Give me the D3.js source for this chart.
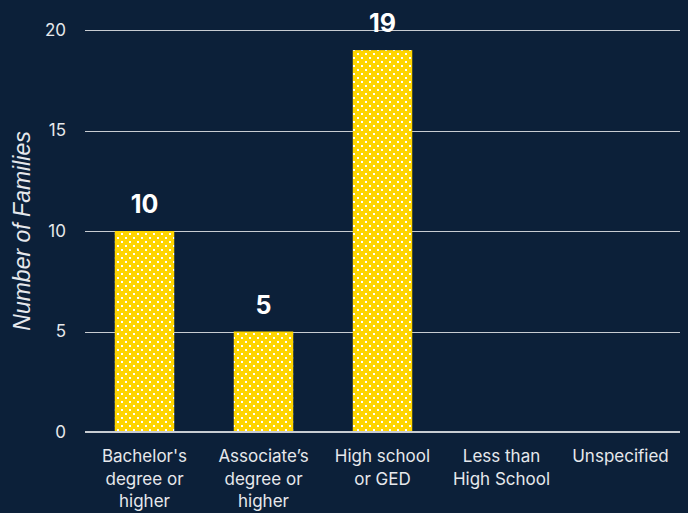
<!DOCTYPE html>
<html>
<head>
<meta charset="utf-8">
<script src="https://cdn.jsdelivr.net/npm/d3@7"></script>
<style>
  body { margin: 0; background: #0c2039; }
  svg { display: block; }
</style>
</head>
<body>
<svg id="chart" width="688" height="513"></svg>
<script>
var categories = [
  ["Bachelor's", "degree or", "higher"],
  ["Associate\u2019s", "degree or", "higher"],
  ["High school", "or GED"],
  ["Less than", "High School"],
  ["Unspecified"]
];
var values = [10, 5, 19, 0, 0];
var yTicks = [0, 5, 10, 15, 20];

(function() {
var svg = d3.select("#chart");
var W = 688, H = 513;
var plotLeft = 85, plotRight = 680, plotTop = 30, plotBottom = 432;

svg.append("rect").attr("width", W).attr("height", H).attr("fill", "#0c2039");

var defs = svg.append("defs");
var pat = defs.append("pattern")
  .attr("id", "dots")
  .attr("patternUnits", "userSpaceOnUse")
  .attr("width", 8).attr("height", 8);
pat.append("rect").attr("width", 8).attr("height", 8).attr("fill", "#ffd500");
pat.append("rect").attr("x", 1).attr("y", 1).attr("width", 2).attr("height", 2).attr("fill", "#fff");
pat.append("rect").attr("x", 5).attr("y", 5).attr("width", 2).attr("height", 2).attr("fill", "#fff");

var x = d3.scaleBand()
  .domain(d3.range(categories.length))
  .range([plotLeft, plotRight])
  .paddingInner(0.5)
  .paddingOuter(0.25);

var y = d3.scaleLinear().domain([0, 20]).range([plotBottom, plotTop]);

// gridlines
svg.append("g").selectAll("line")
  .data(yTicks.filter(function(d) { return d > 0; }))
  .enter().append("line")
  .attr("x1", plotLeft).attr("x2", plotRight)
  .attr("y1", function(d) { return Math.round(y(d)) + 0.5; })
  .attr("y2", function(d) { return Math.round(y(d)) + 0.5; })
  .attr("stroke", "#c8ccd2").attr("stroke-width", 1);

// y tick labels
svg.append("g").selectAll("text")
  .data(yTicks)
  .enter().append("text")
  .attr("x", 66)
  .attr("y", function(d) { return y(d); })
  .attr("dy", "0.35em")
  .attr("text-anchor", "end")
  .attr("fill", "#e6e8ec")
  .style("font-family", "Inter, sans-serif")
  .style("font-size", "17px")
  .text(function(d) { return d; });

// bars
svg.append("g").selectAll("rect")
  .data(values)
  .enter().append("rect")
  .attr("x", function(d, i) { return x(i); })
  .attr("y", function(d) { return y(d); })
  .attr("width", x.bandwidth())
  .attr("height", function(d) { return y(0) - y(d); })
  .attr("fill", "url(#dots)");

// baseline
svg.append("line")
  .attr("x1", plotLeft).attr("x2", plotRight)
  .attr("y1", y(0)).attr("y2", y(0))
  .attr("stroke", "#c8ccd2").attr("stroke-width", 2);

// value labels
svg.append("g").selectAll("text")
  .data(values.map(function(v, i) { return {v: v, i: i}; }).filter(function(d) { return d.v > 0; }))
  .enter().append("text")
  .attr("x", function(d) { return x(d.i) + x.bandwidth() / 2; })
  .attr("y", function(d) { return y(d.v) - 18; })
  .attr("text-anchor", "middle")
  .attr("fill", "#ffffff")
  .style("font-family", "Inter, sans-serif")
  .style("font-weight", "700")
  .style("font-size", "25px")
  .text(function(d) { return d.v; });

// category labels
var cat = svg.append("g").selectAll("text")
  .data(categories)
  .enter().append("text")
  .attr("text-anchor", "middle")
  .attr("fill", "#e6e8ec")
  .style("font-family", "Inter, sans-serif")
  .style("font-size", "17px");
cat.each(function(lines, i) {
  var t = d3.select(this);
  lines.forEach(function(s, j) {
    t.append("tspan")
      .attr("x", x(i) + x.bandwidth() / 2)
      .attr("y", 462 + j * 22.5)
      .text(s);
  });
});

// y axis title
svg.append("text")
  .attr("transform", "translate(30," + ((plotTop + plotBottom) / 2) + ") rotate(-90)")
  .attr("text-anchor", "middle")
  .attr("fill", "#e6e8ec")
  .style("font-family", "'Liberation Sans', Arial, sans-serif")
  .style("font-style", "italic")
  .style("font-size", "23px")
  .text("Number of Families");
})();
</script>
</body>
</html>
